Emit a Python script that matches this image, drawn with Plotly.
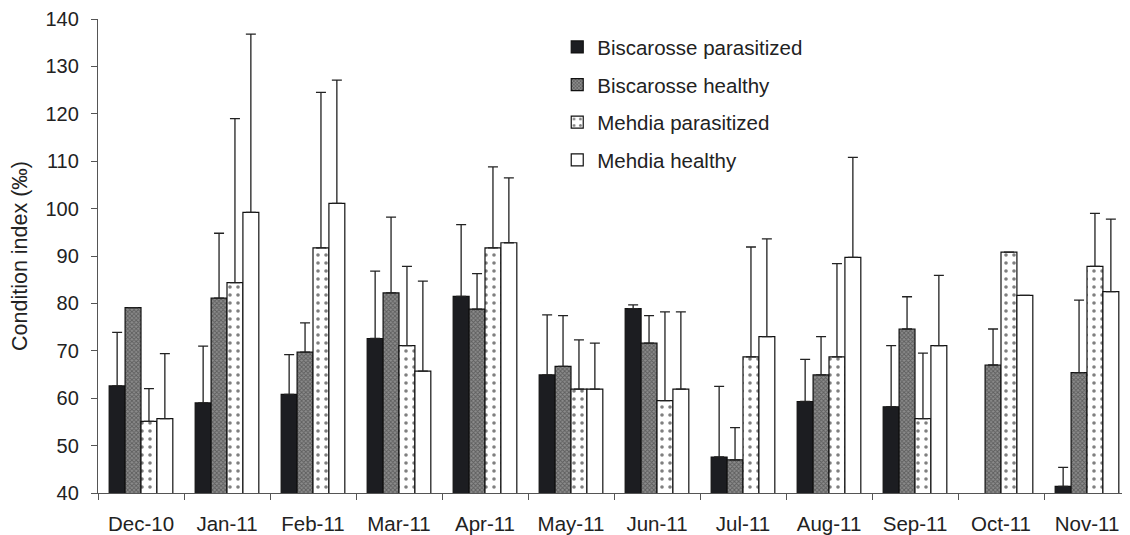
import plotly.graph_objects as go

months = ["Dec-10", "Jan-11", "Feb-11", "Mar-11", "Apr-11", "May-11",
          "Jun-11", "Jul-11", "Aug-11", "Sep-11", "Oct-11", "Nov-11"]

bisc_para = [62.6, 59.0, 60.8, 72.6, 81.5, 64.9, 78.9, 47.6, 59.3, 58.2, None, 41.4]
bisc_para_err = [11.3, 12.0, 8.4, 14.2, 15.1, 12.7, 0.8, 14.9, 8.9, 12.9, None, 4.0]

bisc_heal = [79.1, 81.1, 69.7, 82.2, 78.8, 66.7, 71.6, 47.0, 64.9, 74.6, 67.0, 65.4]
bisc_heal_err = [None, 13.7, 6.2, 16.0, 7.5, 10.7, 5.8, 6.8, 8.1, 6.8, 7.6, 15.3]

mehd_para = [55.1, 84.4, 91.7, 71.1, 91.7, 61.9, 59.5, 68.7, 68.7, 55.7, 90.8, 87.8]
mehd_para_err = [6.9, 34.6, 32.8, 16.7, 17.1, 10.4, 18.7, 23.2, 19.7, 13.8, None, 11.2]

mehd_heal = [55.7, 99.2, 101.1, 65.7, 92.8, 61.9, 61.9, 73.0, 89.7, 71.1, 81.7, 82.5]
mehd_heal_err = [13.7, 37.6, 26.0, 19.0, 13.7, 9.7, 16.3, 20.6, 21.1, 14.8, None, 15.3]

series = [
    ("Biscarosse parasitized", bisc_para, bisc_para_err,
     dict(color="#1c1d21", line=dict(color="#111", width=1.2))),
    ("Biscarosse healthy", bisc_heal, bisc_heal_err,
     dict(color="#8c8c8c", line=dict(color="#111", width=1.2),
          pattern=dict(shape="x", fgcolor="#2e2e2e", size=3, solidity=0.5))),
    ("Mehdia parasitized", mehd_para, mehd_para_err,
     dict(color="white", line=dict(color="#111", width=1.2),
          pattern=dict(shape=".", fgcolor="#000000", bgcolor="white", size=8, solidity=0.16))),
    ("Mehdia healthy", mehd_heal, mehd_heal_err,
     dict(color="white", line=dict(color="#111", width=1.2))),
]

fig = go.Figure()
for name, vals, errs, marker in series:
    fig.add_trace(go.Bar(
        name=name, x=months, y=vals, marker=marker,
        legendgroup=name,
        error_y=dict(type="data", symmetric=False, array=errs,
                     arrayminus=[0] * len(errs), color="#222",
                     thickness=1.3, width=5),
    ))

fig.update_layout(
    width=1122, height=527,
    paper_bgcolor="white", plot_bgcolor="white",
    barmode="group", bargap=0.26, bargroupgap=0,
    margin=dict(l=90, r=0, t=11, b=39),
    font=dict(family="Liberation Sans, Arial, sans-serif", size=20, color="#222"),
    showlegend=True,
    legend=dict(x=0.445, y=0.983, xanchor="left", yanchor="top",
                font=dict(size=20.5), bgcolor="rgba(0,0,0,0)",
                tracegroupgap=8, itemwidth=30),
    xaxis=dict(showline=True, linecolor="#555", linewidth=1.3,
               ticks="outside", tickson="boundaries", ticklen=6,
               ticklabelstandoff=12,
               tickcolor="#555", tickfont=dict(size=20.5),
               range=[-0.5, 11.5], showgrid=False),
    yaxis=dict(range=[40, 140], dtick=10, showline=True, linecolor="#555",
               linewidth=1.3, ticks="outside", ticklen=6, tickcolor="#555",
               ticklabelstandoff=8,
               showgrid=False, zeroline=False, tickfont=dict(size=20),
               title=dict(text="Condition index (‰)", font=dict(size=21.5),
                          standoff=11)),
)

fig.write_html("out.html")
